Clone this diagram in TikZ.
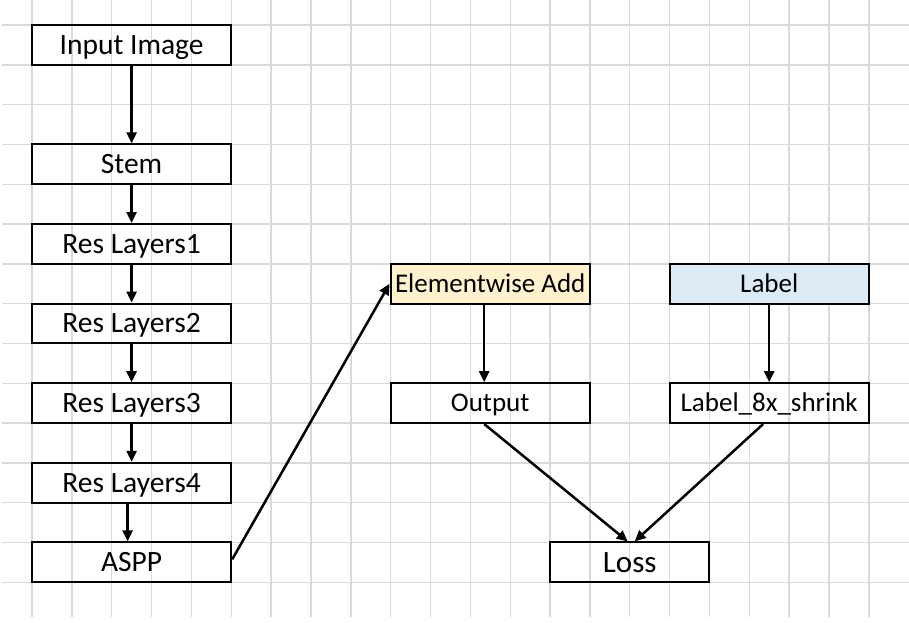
\documentclass[tikz,border=0pt]{standalone}
\usepackage{fontspec}
\setmainfont{Carlito}
\usetikzlibrary{arrows.meta}
\definecolor{gridgray}{HTML}{D9D9D9}
\definecolor{addfill}{HTML}{FFF2CC}
\definecolor{labfill}{HTML}{DDEBF7}
\begin{document}
\begin{tikzpicture}[x=1pt,y=-1pt,
  box/.style={draw=black,line width=2pt,rectangle,inner sep=0pt,
    minimum width=199.25pt,minimum height=39.8pt,
    text height=17.1pt,text depth=0pt,
    font=\fontsize{27}{30}\selectfont},
  leftbox/.style={box,text height=18.6pt,font=\fontsize{29.5}{32}\selectfont},
  arr/.style={line width=2.5pt,-{Triangle[length=11pt,width=10pt]}},
  gridline/.style={draw=gridgray,line width=1.4pt}]
\useasboundingbox (0,0) rectangle (909,622);
\fill[white] (0,0) rectangle (909,622);
% grid
\foreach \k in {0,...,21}{
  \draw[gridline] (32+39.85*\k,0) -- (32+39.85*\k,617);
}
\foreach \j in {0,...,14}{
  \draw[gridline] (2,25+39.8*\j) -- (909,25+39.8*\j);
}
% left column
\node[leftbox] (inp)  at (131.6,44.9)  {Input Image};
\node[leftbox] (stem) at (131.6,164.3) {Stem};
\node[leftbox] (r1)   at (131.6,243.9) {Res Layers1};
\node[leftbox] (r2)   at (131.6,323.5) {Res Layers2};
\node[leftbox] (r3)   at (131.6,403.1) {Res Layers3};
\node[leftbox] (r4)   at (131.6,482.7) {Res Layers4};
\node[leftbox] (aspp) at (131.6,562.3) {ASPP};
% middle / right
\node[box,fill=addfill] (add) at (490.2,283.7) {Elementwise Add};
\node[box] (out) at (490.2,403.1) {Output};
\node[box,fill=labfill] (lab) at (769.2,283.7) {Label};
\node[box] (lab8) at (769.2,403.1) {Label\_8x\_shrink};
\node[box,minimum width=159.4pt,text height=19.6pt,font=\fontsize{31}{34}\selectfont] (loss) at (629.7,562.3) {Loss};
% connectors
\draw[arr] (inp) -- (stem);
\draw[arr] (stem) -- (r1);
\draw[arr] (r1) -- (r2);
\draw[arr] (r2) -- (r3);
\draw[arr] (r3) -- (r4);
\draw[arr] ([xshift=-4pt]r4.south) -- ([xshift=-4pt]aspp.north);
\draw[arr] ([yshift=3pt]aspp.east) -- (add.west);
\draw[arr] ([xshift=-6pt]add.south) -- ([xshift=-6pt]out.north);
\draw[arr] (lab) -- (lab8);
\draw[arr] ([xshift=-6pt]out.south) -- ([xshift=-2pt]loss.north);
\draw[arr] ([xshift=-6pt]lab8.south) -- ([xshift=5pt]loss.north);
\end{tikzpicture}
\end{document}
